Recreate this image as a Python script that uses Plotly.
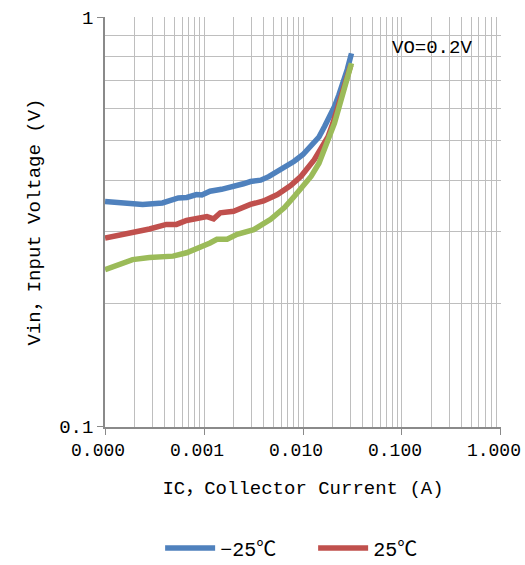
import plotly.graph_objects as go

# -25℃ series
ic_m25 = [1e-4, 1.5e-4, 2.4e-4, 3.8e-4, 4.7e-4, 5.5e-4, 6.7e-4, 8.4e-4, 9.5e-4, 1.15e-3,
          1.5e-3, 1.98e-3, 2.5e-3, 2.95e-3, 3.73e-3, 4.5e-3, 5.5e-3, 6.5e-3, 8.15e-3, 0.0100,
          0.0121, 0.0145, 0.0165, 0.0185, 0.0208, 0.0230, 0.0254, 0.0280, 0.0309]
vin_m25 = [0.355, 0.351, 0.349, 0.352, 0.358, 0.362, 0.363, 0.369, 0.368, 0.376,
           0.380, 0.385, 0.392, 0.397, 0.400, 0.408, 0.420, 0.428, 0.445, 0.462,
           0.484, 0.510, 0.541, 0.570, 0.605, 0.645, 0.690, 0.745, 0.816]

# 25℃ series
ic_25 = [1e-4, 1.9e-4, 2.81e-4, 4.16e-4, 5.26e-4, 6.66e-4, 8.5e-4, 1.07e-3, 1.25e-3, 1.46e-3,
         1.99e-3, 2.4e-3, 2.94e-3, 4e-3, 5.52e-3, 7.5e-3, 9.55e-3, 0.0130, 0.0155, 0.0179,
         0.0200, 0.0226, 0.0250, 0.0275, 0.0304]
vin_25 = [0.289, 0.298, 0.304, 0.312, 0.312, 0.319, 0.323, 0.326, 0.322, 0.333,
          0.336, 0.343, 0.349, 0.356, 0.369, 0.388, 0.409, 0.449, 0.480, 0.511,
          0.550, 0.605, 0.650, 0.703, 0.764]

# third (hot) series, legend entry cut off in the reference
ic_hot = [1e-4, 1.9e-4, 2.81e-4, 4.86e-4, 6.66e-4, 9.1e-4, 1.15e-3, 1.35e-3, 1.71e-3, 2.16e-3,
          3.18e-3, 4.71e-3, 6.5e-3, 8.15e-3, 0.0100, 0.0121, 0.0145, 0.0165, 0.0185, 0.0208,
          0.0230, 0.0254, 0.0280, 0.0309]
vin_hot = [0.242, 0.256, 0.259, 0.261, 0.266, 0.274, 0.281, 0.287, 0.287, 0.295,
           0.303, 0.321, 0.343, 0.365, 0.385, 0.409, 0.440, 0.475, 0.510, 0.551,
           0.600, 0.652, 0.705, 0.772]

x_tickvals = [0.0001, 0.001, 0.01, 0.1, 1]
x_ticktext = ["0.000", "0.001", "0.010", "0.100", "1.000"]
y_tickvals = [0.1, 1]
y_ticktext = ["0.1", "1"]

FONT = "Liberation Mono, Noto Sans CJK SC, monospace"
GRID = "#BEBEBE"
AXIS = "#8A8A8A"

fig = go.Figure()
fig.add_trace(go.Scatter(x=ic_m25, y=vin_m25, mode="lines", name="−25℃",
                         line=dict(color="#4F81BD", width=5.5)))
fig.add_trace(go.Scatter(x=ic_25, y=vin_25, mode="lines", name="25℃",
                         line=dict(color="#C0504D", width=5.5)))
fig.add_trace(go.Scatter(x=ic_hot, y=vin_hot, mode="lines", name="75℃", showlegend=False,
                         line=dict(color="#9BBB59", width=5.5)))

fig.update_layout(
    width=525, height=565,
    margin=dict(l=105, r=24, t=17, b=138),
    plot_bgcolor="white", paper_bgcolor="white",
    font=dict(family=FONT, size=19, color="black"),
    showlegend=True,
    legend=dict(orientation="h", xref="container", yref="container",
                x=0.305, xanchor="left", y=0.030, yanchor="middle",
                font=dict(family=FONT, size=20), itemwidth=50,
                entrywidth=88, entrywidthmode="pixels", tracegroupgap=0),
    annotations=[dict(text="VO=0.2V", xref="paper", yref="paper", x=0.72, y=0.924,
                      xanchor="left", yanchor="middle", showarrow=False,
                      font=dict(family=FONT, size=19))],
)

fig.update_xaxes(type="log", range=[-4.0005, 0.0005], tickvals=x_tickvals, ticktext=x_ticktext,
                 automargin=False, ticklabeloverflow="allow", ticklabelshift=-7,
                 tickfont=dict(family=FONT, size=18),
                 showline=True, linecolor=AXIS, linewidth=1.5,
                 ticks="outside", ticklen=6, tickcolor=AXIS,
                 showgrid=True, gridcolor=GRID, gridwidth=1.2,
                 minor=dict(dtick="D1", showgrid=True, gridcolor=GRID, gridwidth=1.2, ticks=""),
                 zeroline=False, mirror=False,
                 title=dict(text="IC，Collector Current (A)", standoff=20,
                            font=dict(family=FONT, size=19)))
fig.update_yaxes(type="log", range=[-1.0005, 0.0005], tickvals=y_tickvals, ticktext=y_ticktext,
                 automargin=False, ticklabeloverflow="allow",
                 showline=True, linecolor=AXIS, linewidth=1.5,
                 ticks="outside", ticklen=6, tickcolor=AXIS,
                 showgrid=True, gridcolor=GRID, gridwidth=1.2,
                 minor=dict(dtick="D1", showgrid=True, gridcolor=GRID, gridwidth=1.2, ticks=""),
                 zeroline=False,
                 title=dict(text="Vin，Input Voltage (V)", standoff=14,
                            font=dict(family=FONT, size=19)))

# remove the browser's default 8px page margin so the 525x565 figure fills the window
fig.write_html("out.html",
               config={"displayModeBar": False},
               post_script="document.body.style.margin='0';"
                           "document.documentElement.style.overflow='hidden';")
